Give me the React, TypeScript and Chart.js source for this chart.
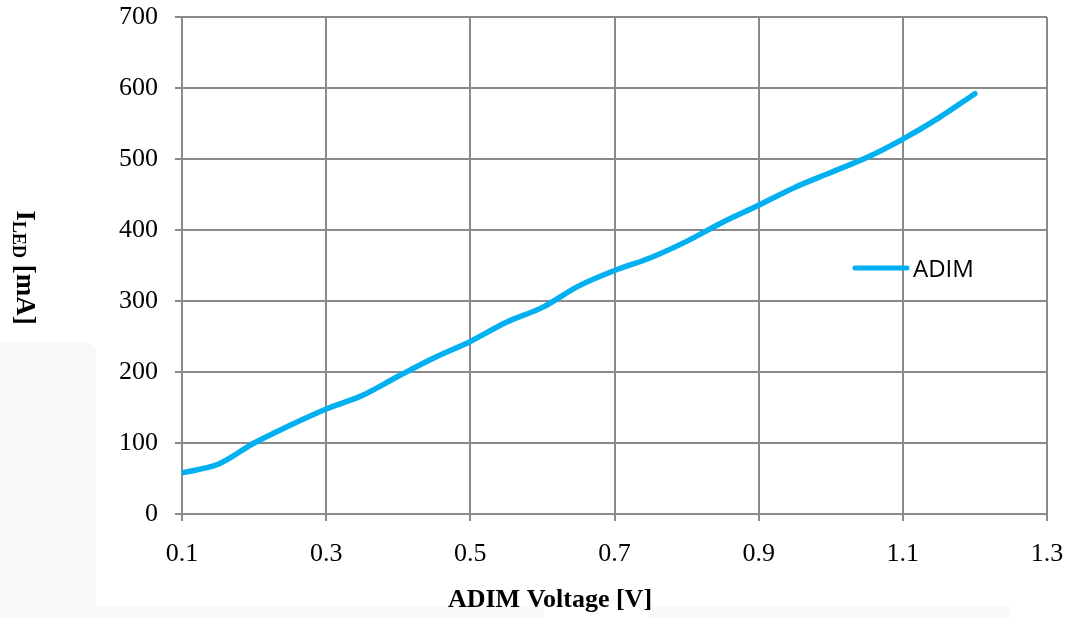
import React, { useEffect, useRef } from "react";
import { Chart, registerables } from "chart.js";

Chart.register(...registerables);

// ---- Data ----
const VOLTAGE = [0.1, 0.15, 0.2, 0.25, 0.3, 0.35, 0.4, 0.45, 0.5, 0.55, 0.6, 0.65, 0.7, 0.75, 0.8, 0.85, 0.9, 0.95, 1.0, 1.05, 1.1, 1.15, 1.2];
const ILED = [58, 70, 100, 125, 148, 167, 194, 220, 243, 270, 291, 321, 343, 361, 384, 411, 435, 460, 481, 502, 528, 558, 592];
const SERIES_LABEL = "ADIM";
const X_TICKS = [0.1, 0.3, 0.5, 0.7, 0.9, 1.1, 1.3];
const Y_TICKS = [0, 100, 200, 300, 400, 500, 600, 700];
const X_TITLE = "ADIM Voltage [V]";
const Y_TITLE_MAIN = "I";
const Y_TITLE_SUB = "LED";
const Y_TITLE_REST = " [mA]";

const LINE_COLOR = "#00B0F0";
const GRID_COLOR = "#8a8a8a";
const SERIF = "'Liberation Serif', 'Times New Roman', serif";
const SANS = "'Open Sans', 'Noto Sans', sans-serif";

const backdropPlugin = {
  id: "backdrop",
  beforeDraw(chart: any) {
    const { ctx } = chart;
    ctx.save();
    ctx.fillStyle = "#f8f8f8";
    ctx.beginPath();
    ctx.roundRect(0, 342, 96, 290, [0, 12, 0, 0]);
    ctx.fill();
    ctx.fillRect(96, 607, 448, 11);
    ctx.fillRect(650, 607, 360, 11);
    ctx.restore();
  },
};

const titlesPlugin = {
  id: "titles",
  afterDraw(chart: any) {
    const { ctx, chartArea } = chart;
    // Y title (rotated, with subscript)
    const cy = (chartArea.top + chartArea.bottom) / 2 + 2;
    ctx.save();
    ctx.translate(17, cy);
    ctx.rotate(Math.PI / 2);
    ctx.fillStyle = "#000";
    ctx.textBaseline = "alphabetic";
    ctx.textAlign = "left";
    const mainFont = `bold 27px ${SERIF}`;
    const subFont = `bold 18px ${SERIF}`;
    ctx.font = mainFont;
    const w1 = ctx.measureText(Y_TITLE_MAIN).width;
    const w3 = ctx.measureText(Y_TITLE_REST).width;
    ctx.font = subFont;
    const w2 = ctx.measureText(Y_TITLE_SUB).width;
    const total = w1 + w2 + w3;
    let x = -total / 2;
    ctx.font = mainFont;
    ctx.fillText(Y_TITLE_MAIN, x, 0);
    x += w1;
    ctx.font = subFont;
    ctx.fillText(Y_TITLE_SUB, x, 4);
    x += w2;
    ctx.font = mainFont;
    ctx.fillText(Y_TITLE_REST, x, 0);
    ctx.restore();

    // X title
    ctx.save();
    ctx.fillStyle = "#000";
    ctx.font = `bold 26px ${SERIF}`;
    ctx.textAlign = "center";
    ctx.textBaseline = "alphabetic";
    ctx.fillText(X_TITLE, chartArea.left + 368, chartArea.bottom + 93);
    ctx.restore();
  },
};

const legendPlugin = {
  id: "innerLegend",
  afterDraw(chart: any) {
    const { ctx, chartArea } = chart;
    const ds = chart.data.datasets[0];
    const x0 = chartArea.right - 192;
    const y = chartArea.top + 251;
    ctx.save();
    ctx.strokeStyle = ds.borderColor;
    ctx.lineWidth = 5;
    ctx.lineCap = "round";
    ctx.beginPath();
    ctx.moveTo(x0, y);
    ctx.lineTo(x0 + 52, y);
    ctx.stroke();
    ctx.fillStyle = "#000";
    ctx.font = `24px ${SANS}`;
    ctx.textBaseline = "middle";
    ctx.textAlign = "left";
    ctx.fillText(ds.label, x0 + 58, y + 2);
    ctx.restore();
  },
};

export default function App() {
  const canvasRef = useRef<HTMLCanvasElement | null>(null);

  useEffect(() => {
    const canvas = canvasRef.current;
    if (!canvas) return;
    const chart = new Chart(canvas, {
      type: "line",
      data: {
        datasets: [
          {
            label: SERIES_LABEL,
            data: VOLTAGE.map((v, i) => ({ x: v, y: ILED[i] })),
            borderColor: LINE_COLOR,
            backgroundColor: LINE_COLOR,
            borderWidth: 5.5,
            pointRadius: 0,
            pointHoverRadius: 0,
            tension: 0.4,
            cubicInterpolationMode: "monotone",
            borderCapStyle: "round",
            borderJoinStyle: "round",
            fill: false,
          },
        ],
      },
      options: {
        animation: false,
        responsive: false,
        maintainAspectRatio: false,
        layout: { padding: { left: 0, right: 26, top: 17, bottom: 0 } },
        plugins: {
          legend: { display: false },
          tooltip: { enabled: false },
        },
        scales: {
          x: {
            type: "linear",
            min: X_TICKS[0],
            max: X_TICKS[X_TICKS.length - 1],
            afterBuildTicks: (scale: any) => {
              scale.ticks = X_TICKS.map((v) => ({ value: v }));
            },
            afterFit: (scale: any) => {
              scale.height = 104;
              scale.paddingLeft = 0;
              scale.paddingRight = 0;
            },
            grid: {
              color: GRID_COLOR,
              lineWidth: 2,
              drawTicks: true,
              tickLength: 7,
              tickColor: GRID_COLOR,
            },
            border: { display: true, color: GRID_COLOR, width: 2 },
            ticks: {
              color: "#000",
              font: { family: SERIF, size: 26 },
              padding: 18,
              maxRotation: 0,
              autoSkip: false,
              callback: (v: any) => Number(v).toFixed(1),
            },
            title: { display: false },
          },
          y: {
            type: "linear",
            min: Y_TICKS[0],
            max: Y_TICKS[Y_TICKS.length - 1],
            afterBuildTicks: (scale: any) => {
              scale.ticks = Y_TICKS.map((v) => ({ value: v }));
            },
            afterFit: (scale: any) => {
              scale.width = 182;
              scale.paddingTop = 0;
              scale.paddingBottom = 0;
            },
            grid: {
              color: GRID_COLOR,
              lineWidth: 2,
              drawTicks: true,
              tickLength: 7,
              tickColor: GRID_COLOR,
            },
            border: { display: true, color: GRID_COLOR, width: 2 },
            ticks: {
              color: "#000",
              font: { family: SERIF, size: 26 },
              padding: 17,
              autoSkip: false,
              callback: (v: any) => String(v),
            },
          },
        },
      },
      plugins: [backdropPlugin, titlesPlugin, legendPlugin],
    } as any);
    return () => chart.destroy();
  }, []);

  return (
    <div style={{ position: "absolute", left: 0, top: 0, width: 1073, height: 618, background: "#fff" }}>
      <canvas ref={canvasRef} width={1073} height={618} style={{ display: "block" }} />
    </div>
  );
}
